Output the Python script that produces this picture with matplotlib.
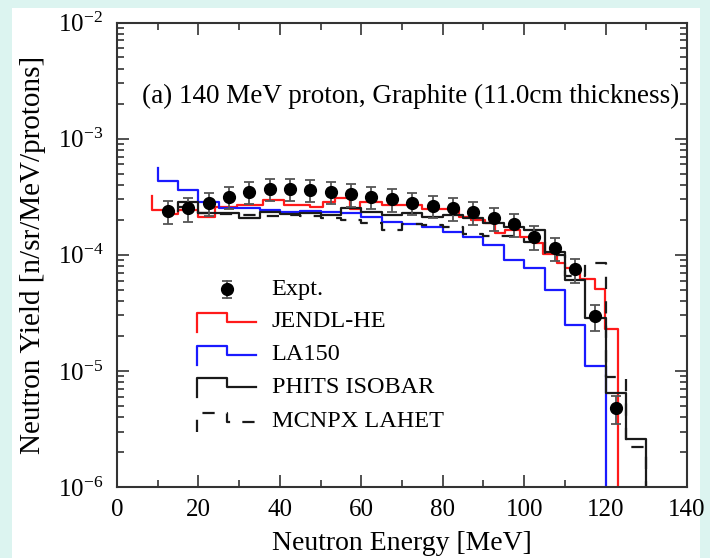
import numpy as np
import matplotlib
matplotlib.use("Agg")
import matplotlib.pyplot as plt
from matplotlib.patches import Rectangle
from matplotlib.ticker import LogLocator, MultipleLocator, NullFormatter

# --- experimental data (5 MeV bins) ---
expt_energy = [12.5, 17.5, 22.5, 27.5, 32.5, 37.5, 42.5, 47.5, 52.5, 57.5, 62.5, 67.5,
               72.5, 77.5, 82.5, 87.5, 92.5, 97.5, 102.5, 107.5, 112.5, 117.5, 122.5]
expt_yield = [2.38e-4, 2.51e-4, 2.77e-4, 3.16e-4, 3.49e-4, 3.68e-4, 3.68e-4, 3.61e-4,
              3.49e-4, 3.31e-4, 3.16e-4, 3.02e-4, 2.81e-4, 2.64e-4, 2.51e-4, 2.32e-4,
              2.06e-4, 1.83e-4, 1.43e-4, 1.14e-4, 7.48e-5, 2.96e-5, 4.81e-6]
expt_relerr = [0.23, 0.23, 0.22, 0.22, 0.22, 0.21, 0.21, 0.21, 0.22, 0.22, 0.22, 0.22,
               0.22, 0.22, 0.22, 0.22, 0.22, 0.22, 0.23, 0.23, 0.24, 0.25, 0.27]

# --- calculations (histograms) ---
jendl_edges = [8.7, 11.8, 15.1, 20, 24.1, 29.5, 35.9, 41, 47.4, 50.6, 53.5, 57.2, 59.7, 65,
               70.3, 75, 80, 84, 87, 90.4, 92.9, 95.3, 99, 102.2, 104.6, 108, 110, 113.7,
               117.4, 119.9, 123]
jendl_vals = [2.43e-4, 2.25e-4, 2.43e-4, 2.12e-4, 2.59e-4, 2.68e-4, 2.96e-4, 2.68e-4,
              2.59e-4, 2.83e-4, 3.06e-4, 2.5e-4, 2.83e-4, 2.68e-4, 2.68e-4, 2.48e-4,
              2.48e-4, 2.13e-4, 2.0e-4, 1.86e-4, 1.53e-4, 1.63e-4, 1.42e-4, 1.25e-4,
              1.01e-4, 8.5e-5, 7.7e-5, 6.2e-5, 5.1e-5, 2.3e-5]

la150_edges = [10, 15, 20, 25, 30, 35, 40, 45, 50, 55, 60, 65, 70, 75, 80, 85, 90, 95,
               100, 105, 110, 115, 120]
la150_vals = [4.34e-4, 3.6e-4, 2.86e-4, 2.53e-4, 2.53e-4, 2.43e-4, 2.33e-4, 2.37e-4,
              2.34e-4, 2.28e-4, 2.13e-4, 1.93e-4, 1.83e-4, 1.75e-4, 1.58e-4, 1.43e-4,
              1.21e-4, 9.1e-5, 7.7e-5, 5.0e-5, 2.48e-5, 1.1e-5]

phits_edges = [15, 20, 25, 30, 35, 40, 45, 50, 55, 60, 65, 70, 75, 80, 85, 90, 95, 100,
               105, 110, 115, 120, 125, 130]
phits_vals = [2.84e-4, 2.28e-4, 2.28e-4, 2.06e-4, 2.34e-4, 2.25e-4, 2.3e-4, 2.22e-4,
              2.54e-4, 2.35e-4, 2.2e-4, 2.3e-4, 2.13e-4, 2.2e-4, 2.06e-4, 1.86e-4,
              1.75e-4, 1.63e-4, 1.06e-4, 6.1e-5, 2.83e-5, 6.4e-6, 2.57e-6]

mcnpx_edges = phits_edges
mcnpx_vals = [2.6e-4, 2.3e-4, 2.25e-4, 2.2e-4, 2.15e-4, 2.2e-4, 2.15e-4, 2.07e-4,
              2.0e-4, 1.86e-4, 1.63e-4, 1.85e-4, 1.8e-4, 1.74e-4, 1.52e-4, 1.45e-4,
              1.45e-4, 1.3e-4, 1.0e-4, 6.5e-5, 8.5e-5, 8.8e-6, 2.2e-6]

FLOOR = 1e-7


def step_xy(edges, vals, top=None, floor=FLOOR):
    x = np.repeat(edges, 2)
    y = np.r_[vals[0] if top is None else top, np.repeat(vals, 2), floor]
    return x, y


plt.rcParams["font.family"] = "Liberation Serif"
plt.rcParams["mathtext.fontset"] = "stix"

fig = plt.figure(figsize=(7.1, 5.58), dpi=100)
fig.patch.set_facecolor("#dcf4f0")
fig.add_artist(Rectangle((12 / 710, 0), 688 / 710, 550 / 558, transform=fig.transFigure,
                         facecolor="white", edgecolor="none", zorder=-5))
ax = fig.add_axes([117 / 710, 1 - 487 / 558, 570 / 710, 464.5 / 558])

lw = 1.6
ax.plot(*step_xy(jendl_edges, jendl_vals, top=3.2e-4), color="#ff1a1a", lw=lw)
ax.plot(*step_xy(la150_edges, la150_vals, top=5.6e-4), color="#1a1aff", lw=lw)
ax.plot(*step_xy(phits_edges, phits_vals, top=2.4e-4), color="#1a1a1a", lw=lw)
ax.plot(*step_xy(mcnpx_edges, mcnpx_vals), color="#1a1a1a", lw=lw, ls=(0, (5.5, 5.5)))

err = np.array(expt_yield) * np.array(expt_relerr)
ax.errorbar(expt_energy, expt_yield, yerr=err, fmt="o", color="black", ms=8.5,
            ecolor="#555555", elinewidth=1.3, capsize=3.5, capthick=1.3, zorder=5)

ax.set_yscale("log")
ax.set_xlim(0, 140)
ax.set_ylim(1e-6, 1e-2)
ax.xaxis.set_major_locator(MultipleLocator(20))
ax.xaxis.set_minor_locator(MultipleLocator(10))
ax.yaxis.set_major_locator(LogLocator(base=10, numticks=10))
ax.yaxis.set_minor_locator(LogLocator(base=10, subs=np.arange(2, 10), numticks=20))
ax.yaxis.set_minor_formatter(NullFormatter())
ax.tick_params(which="both", direction="in", top=True, right=True, color="#333333",
               width=1.2, labelsize=18)
ax.tick_params(which="major", length=8.5)
ax.tick_params(which="minor", length=5)
ax.tick_params(axis="y", pad=10)
ax.tick_params(axis="x", pad=9)
for s in ax.spines.values():
    s.set_color("#333333")
    s.set_linewidth(1.5)

ax.set_xlabel("Neutron Energy [MeV]", fontsize=20)
ax.set_ylabel("Neutron Yield [n/sr/MeV/protons]", fontsize=21)
ax.xaxis.set_label_coords(0.5, -0.094)
ax.yaxis.set_label_coords(-0.125, 0.5)

ax.text(0.044, 0.840, "(a) 140 MeV proton, Graphite (11.0cm thickness)",
        transform=ax.transAxes, ha="left", va="center", fontsize=19.5)

# legend drawn by hand with step-shaped handles
rows = [0.4256, 0.3559, 0.2842, 0.2147, 0.1406]
hx0, hxm, hx1, tx = 0.1398, 0.1924, 0.2439, 0.2714
up, dn = 0.0194, 0.0215
ax.plot([hxm, hxm], [rows[0] - 0.018, rows[0] + 0.018], color="#555555", lw=1.3,
        transform=ax.transAxes)
ax.plot([hxm, hxm], [rows[0] - 0.018, rows[0] + 0.018], ls="none", marker="_", ms=7,
        mew=1.3, color="#555555", transform=ax.transAxes)
ax.plot(hxm, rows[0], "o", color="black", ms=8.5, transform=ax.transAxes)
ax.text(tx, rows[0], "Expt.", transform=ax.transAxes, va="center", fontsize=17.5)

styles = [("JENDL-HE", "#ff1a1a", "-"), ("LA150", "#1a1aff", "-"),
          ("PHITS ISOBAR", "#1a1a1a", "-"), ("MCNPX LAHET", "#1a1a1a", (0, (5.5, 5.5)))]
for ry, (name, c, ls) in zip(rows[1:], styles):
    ax.plot([hx0, hx0, hxm, hxm, hx1], [ry - dn, ry + up, ry + up, ry, ry], color=c,
            lw=lw, ls=ls, transform=ax.transAxes)
    ax.text(tx, ry, name, transform=ax.transAxes, va="center", fontsize=17.5)

fig.savefig("out.png", dpi=100)
